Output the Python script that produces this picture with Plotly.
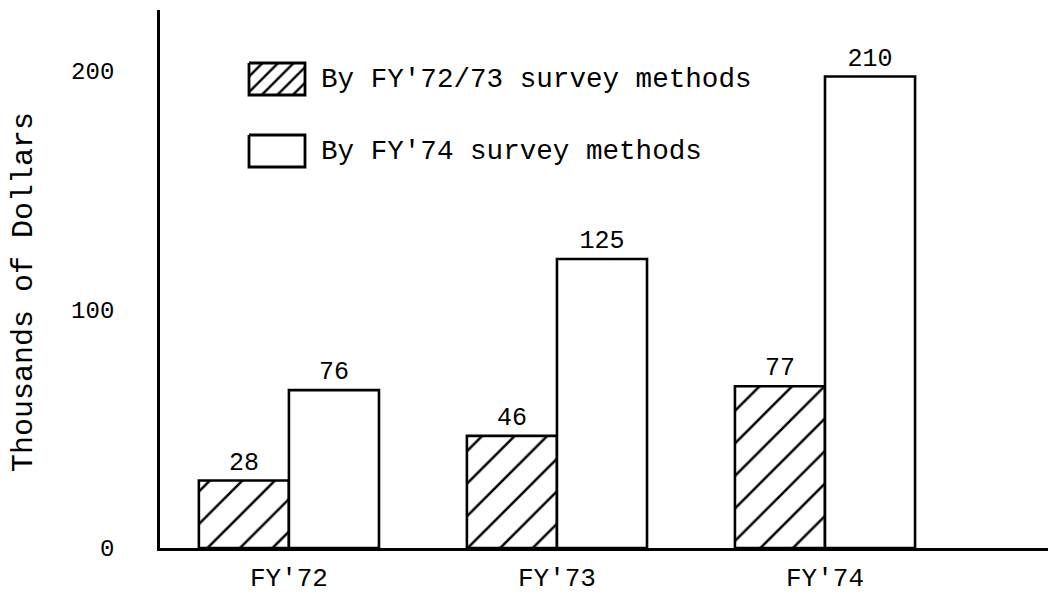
import plotly.graph_objects as go

# ---- data ----
categories = ["FY'72", "FY'73", "FY'74"]
old_method_values = [28.3, 47.0, 67.8]      # bar heights as drawn
new_method_values = [66.2, 121.2, 197.7]    # bar heights as drawn
old_method_labels = ["28", "46", "77"]      # printed value labels
new_method_labels = ["76", "125", "210"]
series_names = ["By FY'72/73 survey methods", "By FY'74 survey methods"]
y_tick_values = [0, 100, 200]
y_title = "Thousands of Dollars"

FONT = "Liberation Mono, Courier New, monospace"
W, H = 1048, 594
ML, MR, MT, MB = 160, 0, 10, 46

x_idx = list(range(len(categories)))
BW = 0.336

fig = go.Figure()
fig.add_trace(go.Bar(
    x=x_idx, y=old_method_values, width=BW, offset=-BW,
    text=old_method_labels, textposition="outside",
    textfont=dict(family=FONT, size=25, color="black"),
    marker=dict(color="white", line=dict(color="black", width=2.6),
                pattern=dict(shape="/", fgcolor="black", bgcolor="white",
                             fgopacity=1, size=23, solidity=0.11)),
    cliponaxis=False, showlegend=False, name=series_names[0]))
fig.add_trace(go.Bar(
    x=x_idx, y=new_method_values, width=BW, offset=0,
    text=new_method_labels, textposition="outside",
    textfont=dict(family=FONT, size=25, color="black"),
    marker=dict(color="white", line=dict(color="black", width=2.6)),
    cliponaxis=False, showlegend=False, name=series_names[1]))

# ---- legend keys drawn on a pixel-scaled overlay axis ----
legend_rows = [
    dict(x0=249, x1=305, y0=63, y1=95, pattern="/"),
    dict(x0=249, x1=305, y0=135, y1=167, pattern=""),
]
for row, name in zip(legend_rows, series_names):
    fig.add_trace(go.Scatter(
        x=[row["x0"], row["x1"], row["x1"], row["x0"], row["x0"]],
        y=[row["y0"], row["y0"], row["y1"], row["y1"], row["y0"]],
        xaxis="x2", yaxis="y2", mode="lines", fill="toself",
        fillcolor="white",
        fillpattern=dict(shape=row["pattern"], fgcolor="black", bgcolor="white",
                         fgopacity=1, size=11, solidity=0.22) if row["pattern"] else None,
        line=dict(color="black", width=2.8), hoverinfo="skip",
        showlegend=False))
    fig.add_annotation(
        x=row["x1"] + 14, y=(row["y0"] + row["y1"]) / 2, xref="x2", yref="y2",
        text=name, showarrow=False, xanchor="left", yanchor="middle",
        font=dict(family=FONT, size=27.6, color="black"))

# y-axis title placed as a rotated annotation (centred lower than plot middle)
fig.add_annotation(
    x=(24 - ML) / (W - ML - MR), y=(H - MB - 292) / (H - MB - MT),
    xref="paper", yref="paper", text=y_title, textangle=-90,
    showarrow=False, xanchor="center", yanchor="middle",
    font=dict(family=FONT, size=30, color="black"))

fig.update_layout(
    width=W, height=H,
    margin=dict(l=ML, r=MR, t=MT, b=MB, pad=0),
    paper_bgcolor="white", plot_bgcolor="white",
    xaxis=dict(range=[-0.481, 2.832], tickvals=x_idx, ticktext=categories,
               automargin=False,
               showgrid=False, zeroline=False, showline=True, linecolor="black",
               linewidth=2.8, ticks="", ticklabelstandoff=4,
               tickfont=dict(family=FONT, size=26, color="black")),
    yaxis=dict(range=[0, 225.6], tickvals=y_tick_values, automargin=False,
               showgrid=False, zeroline=False, showline=True, linecolor="black",
               linewidth=2.8, ticks="", ticklabelstandoff=38,
               tickfont=dict(family=FONT, size=24, color="black")),
    xaxis2=dict(domain=[0, 1], range=[ML, W - MR], overlaying="x", visible=False,
                fixedrange=True),
    yaxis2=dict(domain=[0, 1], range=[H - MB, MT], overlaying="y", visible=False,
                fixedrange=True),
    showlegend=False,
)

fig.write_html(
    "out.html",
    config={"displayModeBar": False},
    post_script="document.body.style.margin='0';document.body.style.overflow='hidden';",
)
